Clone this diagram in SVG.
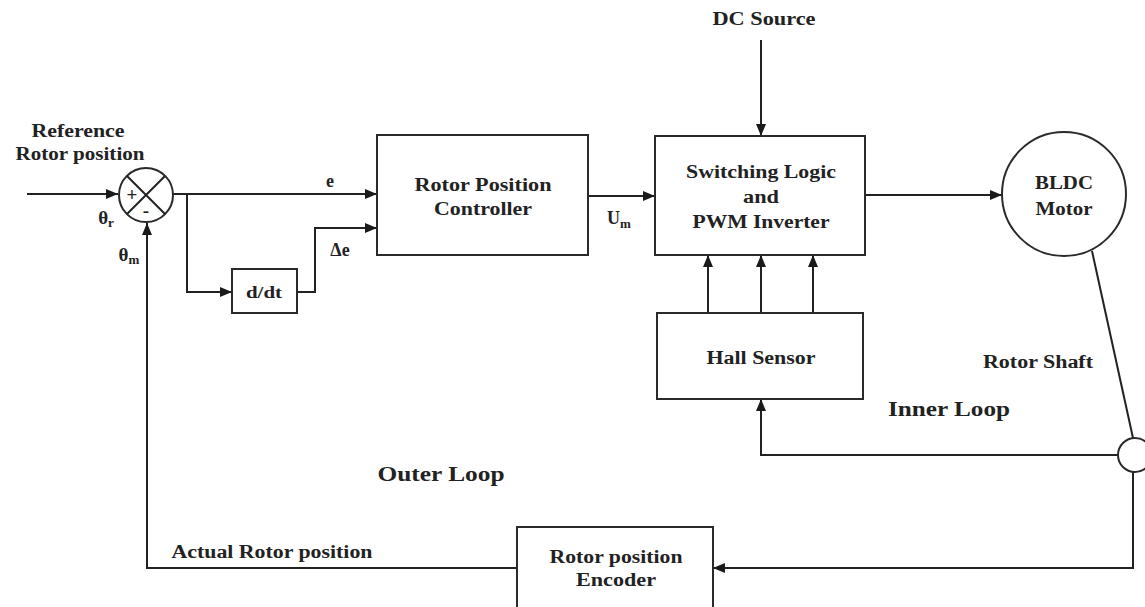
<svg xmlns="http://www.w3.org/2000/svg" width="1145" height="607" viewBox="0 0 1145 607">
<style>
.ln{fill:none;stroke:#222;stroke-width:2}
.bx{fill:#fff;stroke:#2a2a2a;stroke-width:2}
.t{font-family:"Liberation Serif","Times New Roman",serif;font-weight:bold;font-size:18px;fill:#222;text-anchor:middle}
.tl{font-family:"Liberation Serif","Times New Roman",serif;font-weight:bold;font-size:22px;fill:#222;text-anchor:middle}
.s{font-size:13px}
</style>
<defs>
<marker id="ah" viewBox="0 0 12 10" refX="12" refY="5" markerWidth="12" markerHeight="10" markerUnits="userSpaceOnUse" orient="auto">
<path d="M0,0 L12,5 L0,10 z" fill="#1a1a1a"/>
</marker>
</defs>
<rect width="1145" height="607" fill="#fff"/>

<g id="connectors">
<path class="ln" d="M27,194 H118" marker-end="url(#ah)"/>
<path class="ln" d="M517,568 H147 V223" marker-end="url(#ah)"/>
<path class="ln" d="M173,194 H377" marker-end="url(#ah)"/>
<path class="ln" d="M187,194 V292 H232" marker-end="url(#ah)"/>
<path class="ln" d="M297,292 H315 V228 H377" marker-end="url(#ah)"/>
<path class="ln" d="M588,196 H655" marker-end="url(#ah)"/>
<path class="ln" d="M761,40 V136" marker-end="url(#ah)"/>
<path class="ln" d="M708,313 V255" marker-end="url(#ah)"/>
<path class="ln" d="M761,313 V255" marker-end="url(#ah)"/>
<path class="ln" d="M813,313 V255" marker-end="url(#ah)"/>
<path class="ln" d="M865,195 H1002" marker-end="url(#ah)"/>
<path class="ln" d="M1092,251 L1133,438"/>
<path class="ln" d="M1118,455 H761 V399" marker-end="url(#ah)"/>
<path class="ln" d="M1133,472 V568 H713" marker-end="url(#ah)"/>
</g>

<g id="sum">
<circle class="bx" cx="146" cy="195" r="27"/>
<path class="ln" d="M127,176 L165,214 M165,176 L127,214"/>
<text class="t" x="132" y="201" style="font-size:19px">+</text>
<text class="t" x="146" y="217" style="font-size:19px">-</text>
</g>

<g id="controller">
<rect class="bx" x="377" y="135" width="211" height="120"/>
<text class="t" x="483" y="191" textLength="137" lengthAdjust="spacingAndGlyphs">Rotor Position</text>
<text class="t" x="483" y="215" textLength="98" lengthAdjust="spacingAndGlyphs">Controller</text>
</g>

<g id="ddt">
<rect class="bx" x="232" y="269" width="65" height="44"/>
<text class="t" x="264" y="298" textLength="36" lengthAdjust="spacingAndGlyphs" style="font-size:16px">d/dt</text>
</g>

<g id="switching">
<rect class="bx" x="655" y="136" width="210" height="119"/>
<text class="t" x="761" y="178" textLength="150" lengthAdjust="spacingAndGlyphs">Switching Logic</text>
<text class="t" x="761" y="203" textLength="36" lengthAdjust="spacingAndGlyphs">and</text>
<text class="t" x="761" y="228" textLength="137" lengthAdjust="spacingAndGlyphs">PWM Inverter</text>
</g>

<g id="hall">
<rect class="bx" x="657" y="313" width="206" height="86"/>
<text class="t" x="761" y="364" textLength="109" lengthAdjust="spacingAndGlyphs">Hall Sensor</text>
</g>

<g id="motor">
<circle class="bx" cx="1064" cy="194" r="62"/>
<text class="t" x="1064" y="189" textLength="58" lengthAdjust="spacingAndGlyphs">BLDC</text>
<text class="t" x="1064" y="215" textLength="57" lengthAdjust="spacingAndGlyphs">Motor</text>
</g>

<g id="shaft-joint">
<circle class="bx" cx="1135" cy="455" r="17"/>
</g>

<g id="encoder">
<rect class="bx" x="517" y="527" width="196" height="90"/>
<text class="t" x="616" y="563" textLength="133" lengthAdjust="spacingAndGlyphs">Rotor position</text>
<text class="t" x="616" y="586" textLength="80" lengthAdjust="spacingAndGlyphs">Encoder</text>
</g>

<g id="labels">
<text class="t" x="764" y="25" textLength="103" lengthAdjust="spacingAndGlyphs">DC Source</text>
<text class="t" x="78" y="137" textLength="93" lengthAdjust="spacingAndGlyphs">Reference</text>
<text class="t" x="80" y="160" textLength="129" lengthAdjust="spacingAndGlyphs">Rotor position</text>
<text class="t" x="330" y="187">e</text>
<text class="t" x="340" y="256">Δe</text>
<text class="t" x="619" y="224">U<tspan class="s" dy="4">m</tspan></text>
<text class="t" x="106" y="224" style="font-size:19px">θ<tspan class="s" dy="3">r</tspan></text>
<text class="t" x="129" y="261" style="font-size:19px">θ<tspan class="s" dy="3">m</tspan></text>
<text class="t" x="272" y="558" textLength="201" lengthAdjust="spacingAndGlyphs">Actual Rotor position</text>
<text class="t" x="1038" y="368" textLength="110" lengthAdjust="spacingAndGlyphs">Rotor Shaft</text>
<text class="tl" x="949" y="416" textLength="122" lengthAdjust="spacingAndGlyphs">Inner Loop</text>
<text class="tl" x="441" y="481" textLength="127" lengthAdjust="spacingAndGlyphs">Outer Loop</text>
</g>
</svg>
